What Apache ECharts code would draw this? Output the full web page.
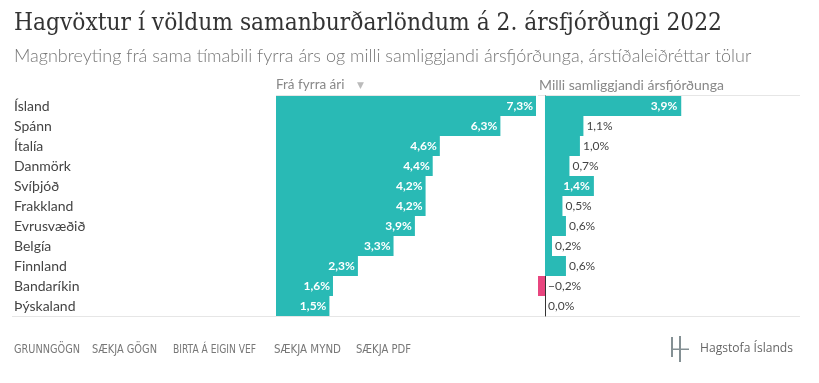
<!DOCTYPE html>
<html>
<head>
<meta charset="utf-8">
<script src="https://cdn.jsdelivr.net/npm/echarts@6/dist/echarts.min.js"></script>
<style>
html,body{margin:0;padding:0;background:#fff;}
#c{width:819px;height:383px;}
</style>
</head>
<body>
<div id="c"></div>
<script>
const categories = ['Ísland','Spánn','Ítalía','Danmörk','Svíþjóð','Frakkland','Evrusvæðið','Belgía','Finnland','Bandaríkin','Þýskaland'];
const fromPrevYear = [7.3,6.3,4.6,4.4,4.2,4.2,3.9,3.3,2.3,1.6,1.5];
const betweenQuarters = [3.9,1.1,1.0,0.7,1.4,0.5,0.6,0.2,0.6,-0.2,0.0];
const footerLinks = ['GRUNNGÖGN','SÆKJA GÖGN','BIRTA Á EIGIN VEF','SÆKJA MYND','SÆKJA PDF'];

const TEAL = '#29bab5';
const PINK = '#e8467f';
const FONT = 'Lato, "Open Sans", sans-serif';

function fmt(v){
  const s = Math.abs(v).toFixed(1).replace('.', ',') + '%';
  return v < 0 ? '\u2212' + s : s;
}

const mctx = document.createElement('canvas').getContext('2d');
function fitScale(text, font, target){
  mctx.font = font;
  return target / mctx.measureText(text).width;
}

const chart = echarts.init(document.getElementById('c'), null, {renderer:'canvas'});

const gridTop = 96, gridH = 220;

const rightData = betweenQuarters.map(v => {
  const inside = v >= 1.4;
  return {
    value: v,
    itemStyle: {color: v < 0 ? PINK : TEAL},
    label: inside ? {position:'insideRight', color:'#fff', fontWeight:'bold', distance:4}
                  : {position:'right', color:'#444', fontWeight:'normal', distance:3}
  };
});

const TITLE = 'Hagvöxtur í völdum samanburðarlöndum á 2. ársfjórðungi 2022';
const TITLE_FONT = '24px "DejaVu Serif"';
const FOOT_FONT = '12px "DejaVu Sans Condensed", "DejaVu Sans", sans-serif';
const footerX = [14, 92, 173, 274, 356];
const footerW = [66, 65, 83, 67, 55];

const option = {
  animation:false,
  textStyle:{fontFamily:FONT},
  grid:[
    {left:276, top:gridTop, width:260, height:gridH},
    {left:538, top:gridTop, width:262, height:gridH}
  ],
  xAxis:[
    {gridIndex:0, type:'value', min:0, max:7.3, show:false},
    {gridIndex:1, type:'value', min:-0.2, max:7.3, show:false}
  ],
  yAxis:[
    {gridIndex:0, type:'category', data:categories, inverse:true,
     axisLine:{show:false}, axisTick:{show:false}, splitLine:{show:false},
     axisLabel:{align:'left', margin:262, color:'#444', fontSize:14, fontFamily:FONT}},
    {gridIndex:1, type:'category', data:categories, inverse:true,
     axisLine:{show:true, onZero:true, lineStyle:{color:'#333', width:1}},
     axisTick:{show:false}, axisLabel:{show:false}, splitLine:{show:false}}
  ],
  series:[
    {type:'bar', xAxisIndex:0, yAxisIndex:0, data:fromPrevYear, barCategoryGap:'0%',
     itemStyle:{color:TEAL},
     label:{show:true, position:'insideRight', color:'#fff', fontWeight:'bold', fontSize:12, fontFamily:FONT, distance:3,
            formatter:p=>fmt(p.value)}},
    {type:'bar', xAxisIndex:1, yAxisIndex:1, data:rightData, barCategoryGap:'0%',
     label:{show:true, fontSize:12, fontFamily:FONT, formatter:p=>fmt(p.value)}}
  ],
  graphic:[
    {type:'text', x:14, y:12, scaleX:fitScale(TITLE, TITLE_FONT, 708), style:{text:TITLE, font:TITLE_FONT, fill:'#333'}},
    {type:'text', left:14, top:47, style:{text:'Magnbreyting frá sama tímabili fyrra árs og milli samliggjandi ársfjórðunga, árstíðaleiðréttar tölur', font:'300 18px Lato', fill:'#777'}},
    {type:'text', left:276, top:78, style:{text:'Frá fyrra ári', font:'13.5px Lato', fill:'#888'}},
    {type:'text', left:357, top:81, style:{text:'▼', font:'9px "DejaVu Sans"', fill:'#bbb'}},
    {type:'text', left:539, top:78, style:{text:'Milli samliggjandi ársfjórðunga', font:'14px Lato', fill:'#888'}},
    {type:'line', shape:{x1:276, y1:95.5, x2:536, y2:95.5}, style:{stroke:'#e6e6e6', lineWidth:1}},
    {type:'line', shape:{x1:538, y1:95.5, x2:800, y2:95.5}, style:{stroke:'#e6e6e6', lineWidth:1}},
    {type:'line', shape:{x1:12, y1:316.5, x2:800, y2:316.5}, style:{stroke:'#e6e6e6', lineWidth:1}},
    ...footerLinks.map((t,i)=>({type:'text', x:footerX[i], y:344, scaleX:fitScale(t, FOOT_FONT, footerW[i]),
        style:{text:t, font:FOOT_FONT, fill:'#777'}})),
    {type:'rect', shape:{x:671, y:337, width:2, height:20}, style:{fill:'#849094'}},
    {type:'rect', shape:{x:679, y:336, width:2, height:26}, style:{fill:'#849094'}},
    {type:'rect', shape:{x:671, y:348.5, width:18, height:1.5}, style:{fill:'#849094'}},
    {type:'text', x:700, y:342, scaleX:fitScale('Hagstofa Íslands', '13px "Open Sans"', 93), style:{text:'Hagstofa Íslands', font:'13px "Open Sans"', fill:'#666'}}
  ]
};
chart.setOption(option);
</script>
</body>
</html>
